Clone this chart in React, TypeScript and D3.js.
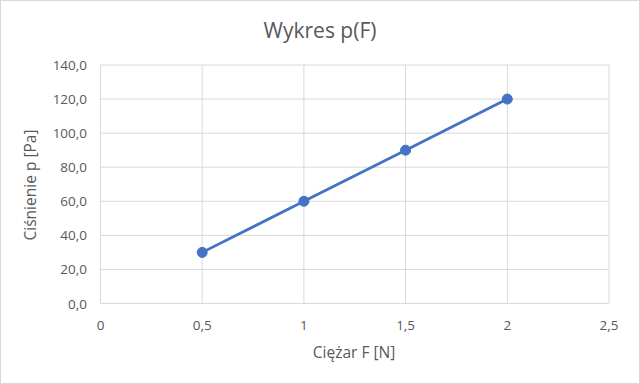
import React from "react";
import * as d3 from "d3";

const forces = [0.5, 1, 1.5, 2];
const pressures = [30, 60, 90, 120];
const xTicks = [0, 0.5, 1, 1.5, 2, 2.5];
const yTicks = [0, 20, 40, 60, 80, 100, 120, 140];

const W = 640;
const H = 384;
const left = 100.5;
const right = 609;
const top = 65;
const bottom = 303.5;
const font = "'Open Sans', sans-serif";
const fmt = (v: number) => v.toString().replace(".", ",");
const fmtY = (v: number) => v.toFixed(1).replace(".", ",");

export default function App() {
  const x = d3.scaleLinear().domain([0, 2.5]).range([left, right]);
  const y = d3.scaleLinear().domain([0, 140]).range([bottom, top]);
  const pts = forces.map((f, i) => [x(f), y(pressures[i])] as [number, number]);
  const line = d3.line()(pts) || "";
  return (
    <svg width={W} height={H} style={{ position: "absolute", left: 0, top: 0 }} fontFamily={font}>
      <rect x={0.5} y={0.5} width={W - 1} height={H - 1} fill="#fff" stroke="#d9d9d9" />
      <text x={320} y={30} textAnchor="middle" dominantBaseline="central" fontSize={21} fill="#595959">
        Wykres p(F)
      </text>
      {yTicks.map((t) => (
        <g key={"y" + t}>
          <line x1={left} x2={right} y1={y(t)} y2={y(t)} stroke="#d9d9d9" strokeWidth={1} />
          <text x={87} y={y(t)} textAnchor="end" dominantBaseline="central" fontSize={13.5} fill="#595959">
            {fmtY(t)}
          </text>
        </g>
      ))}
      {xTicks.map((t) => (
        <g key={"x" + t}>
          <line x1={x(t)} x2={x(t)} y1={top} y2={bottom} stroke="#d9d9d9" strokeWidth={1} />
          <text x={x(t)} y={325} textAnchor="middle" dominantBaseline="central" fontSize={13.5} fill="#595959">
            {fmt(t)}
          </text>
        </g>
      ))}
      <path d={line} fill="none" stroke="#4472C4" strokeWidth={2.75} strokeLinecap="round" />
      {pts.map((p, i) => (
        <circle key={i} cx={p[0]} cy={p[1]} r={5} fill="#4472C4" stroke="#4472C4" strokeWidth={1} />
      ))}
      <text x={354} y={352} textAnchor="middle" dominantBaseline="central" fontSize={15.5} fill="#595959">
        Ciężar F [N]
      </text>
      <text
        transform={`translate(30,185) rotate(-90)`}
        textAnchor="middle"
        dominantBaseline="central"
        fontSize={15.5}
        fill="#595959"
      >
        Ciśnienie p [Pa]
      </text>
    </svg>
  );
}
